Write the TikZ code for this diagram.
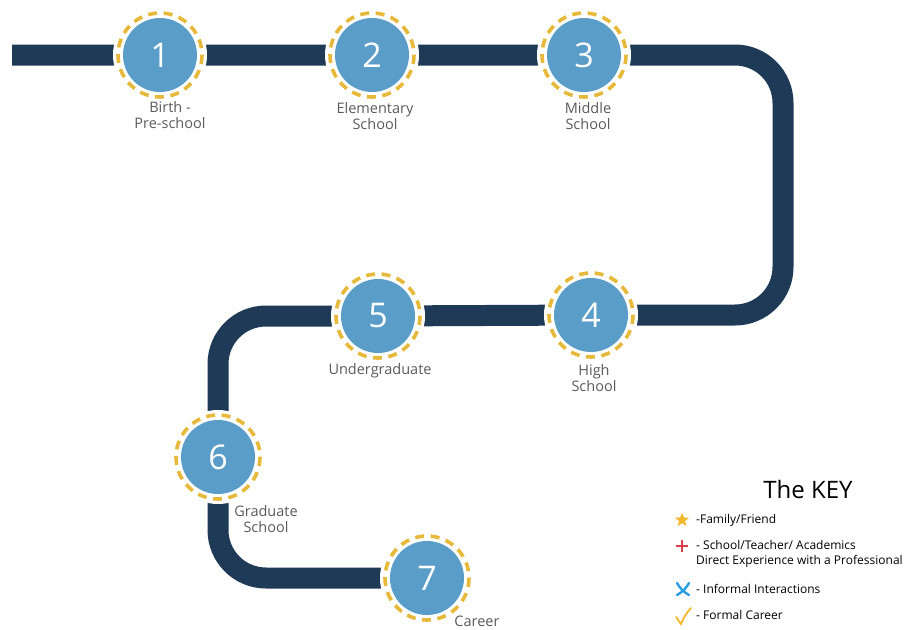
\documentclass[tikz,border=0pt]{standalone}
\usepackage{fontspec}
\setmainfont{Open Sans}
\usetikzlibrary{shapes.geometric}
\definecolor{navy}{HTML}{1F3A56}
\definecolor{stepblue}{HTML}{5A9DC9}
\definecolor{ringyellow}{HTML}{E6B93A}
\definecolor{labelgrey}{HTML}{5A5A5A}
\definecolor{keyred}{HTML}{D9404A}
\definecolor{keyblue}{HTML}{2A9FE0}
\definecolor{keyyellow}{HTML}{F4B82A}
\begin{document}
\begin{tikzpicture}[x=1pt,y=-1pt,
  track/.style={draw=navy,line width=21pt,rounded corners=48pt},
  halo/.style={fill=white},
  stepnode/.style={circle,fill=stepblue,minimum size=74pt,inner sep=0pt,text=white,font=\fontsize{34}{36}\selectfont},
  ring/.style={draw=ringyellow,line width=3.6pt,dash pattern=on 9pt off 6.5pt},
  steplabel/.style={align=center,text=labelgrey,font=\fontsize{14.5}{16}\selectfont,inner sep=0pt},
  keytext/.style={anchor=west,inner sep=0pt,font=\fontsize{12}{15.5}\selectfont,align=left}]
\useasboundingbox (0,0) rectangle (907,629);
% positions
\coordinate (p1) at (160,55);
\coordinate (p2) at (372,55);
\coordinate (p3) at (584,55);
\coordinate (p4) at (591,315);
\coordinate (p5) at (378,316);
\coordinate (p6) at (218,457);
\coordinate (p7) at (427,578);
\coordinate (start) at (12,55);
\coordinate (c1) at (783,55);
\coordinate (c2) at (783,315);
\coordinate (c3) at (218,316);
\coordinate (c4) at (218,578);
% track
\draw[track,line cap=butt] (start) -- (p1) -- (p2) -- (p3) -- (c1) -- (c2) -- (p4) -- (p5) -- (c3) -- (p6) -- (c4) -- (p7);
% steps
\foreach \i in {1,...,7} {
  \fill[halo] (p\i) circle (47);
  \node[stepnode] (n\i) at (p\i) {\i};
  \draw[ring] (p\i) circle (42);
}
% labels
\node[steplabel] (l1) at (170,115) {Birth -\\Pre-school};
\node[steplabel] (l2) at (375,116) {Elementary\\School};
\node[steplabel] (l3) at (588,116) {Middle\\School};
\node[steplabel] (l4) at (594,378) {High\\School};
\node[steplabel] (l5) at (380,371) {Undergraduate};
\node[steplabel] (l6) at (266,519) {Graduate\\School};
\node[steplabel] (l7) at (477,621) {Career};
% key
\node[font=\fontsize{24}{26}\selectfont,inner sep=0pt] (keytitle) at (808,489) {The KEY};
\node[star,star points=5,star point ratio=2.4,fill=keyyellow,minimum size=15pt,inner sep=0pt] (kstar) at (682,520) {};
\node[keytext] (k1) at (696,520) {-Family/Friend};
\coordinate (kplus) at (682,546);
\draw[keyred,line width=1.2pt] ([xshift=-6pt]kplus) -- ([xshift=6pt]kplus) ([yshift=-6pt]kplus) -- ([yshift=6pt]kplus);
\node[keytext] (k2) at (696,554) {- School/Teacher/ Academics\\Direct Experience with a Professional};
\coordinate (kx) at (683,589);
\draw[keyblue,line width=2.4pt,line cap=round] ([shift={(-6,-6)}]kx) to[bend right=15] ([shift={(6,6)}]kx) ([shift={(6,-6)}]kx) to[bend left=15] ([shift={(-6,6)}]kx);
\node[keytext] (k3) at (696,589) {- Informal Interactions};
\coordinate (kc) at (683,616);
\draw[keyyellow,line width=1.8pt,line cap=round] ([shift={(-7,1)}]kc) -- ([shift={(-2,8)}]kc) to[bend left=10] ([shift={(8,-8)}]kc);
\node[keytext] (k4) at (696,615) {- Formal Career};
\end{tikzpicture}
\end{document}
